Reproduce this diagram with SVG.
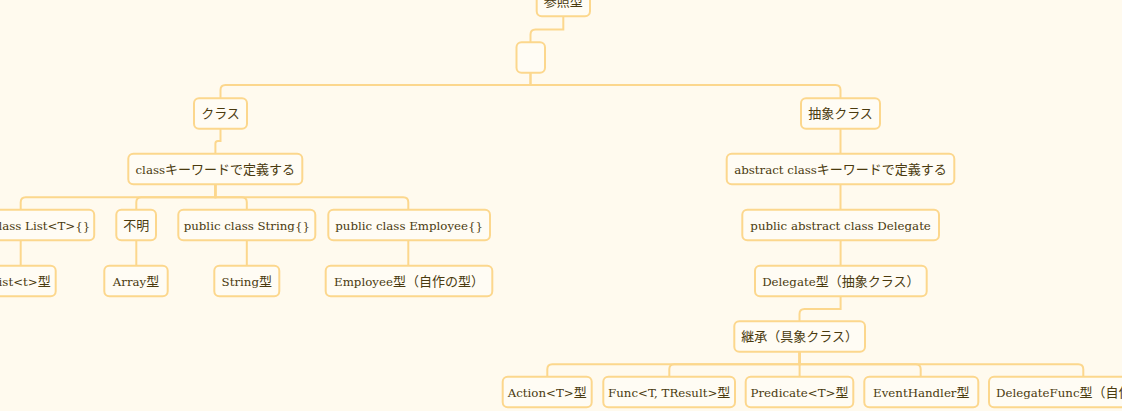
<svg xmlns="http://www.w3.org/2000/svg" width="1122" height="411" viewBox="0 0 1122 411">
<style>
.bg{fill:#fffaee}
.node rect{fill:#fffcf4;stroke:#fcd78d;stroke-width:2}
.t{font-family:"DejaVu Serif","Noto Sans CJK JP",serif;font-size:11.8px;fill:#4a3a0e;text-anchor:middle}
.j{font-family:"Noto Sans CJK JP","Noto Sans",sans-serif;font-size:13px}
#edges path{fill:none;stroke:#fcd78d;stroke-width:2}
</style>
<rect class="bg" x="0" y="0" width="1122" height="411"/>
<g id="edges">
<path d="M563.3,16.7 V29.5 H535.5 Q530.5,29.5 530.5,34.5 V42.2"/>
<path d="M530.5,72.7 V85 H225.5 Q220.5,85 220.5,90 V98.3"/>
<path d="M530.5,72.7 V85 H835.5 Q840.5,85 840.5,90 V98.3"/>
<path d="M220.5,128.8 V141 H217.9 Q215.4,141 215.4,143.5 V153.7"/>
<path d="M840.5,128.8 V153.7"/>
<path d="M215.4,184.3 V197.3 H25.7 Q20.7,197.3 20.7,202.3 V209.7"/>
<path d="M215.4,184.3 V197.3 H141.3 Q136.3,197.3 136.3,202.3 V209.7"/>
<path d="M215.4,184.3 V197.3 H241.8 Q246.8,197.3 246.8,202.3 V209.7"/>
<path d="M215.4,184.3 V197.3 H403.3 Q408.3,197.3 408.3,202.3 V209.7"/>
<path d="M840.5,184.3 V209.7"/>
<path d="M20.7,240.2 V265.7"/>
<path d="M136.3,240.2 V265.7"/>
<path d="M246.8,240.2 V265.7"/>
<path d="M408.3,240.2 V265.7"/>
<path d="M840.6,240.2 V265.7"/>
<path d="M840.6,296.2 V309 H804.5 Q799.5,309 799.5,314 V321.3"/>
<path d="M799.6,351.8 V364.3 H552.3 Q547.3,364.3 547.3,369.3 V376.7"/>
<path d="M799.6,351.8 V364.3 H674.3 Q669.3,364.3 669.3,369.3 V376.7"/>
<path d="M799.6,351.8 V376.7"/>
<path d="M799.6,351.8 V364.3 H915.7 Q920.7,364.3 920.7,369.3 V376.7"/>
<path d="M799.6,351.8 V364.3 H1078.3 Q1083.3,364.3 1083.3,369.3 V376.7"/>
</g>
<g id="n0" class="node"><rect x="536.7" y="-14.3" width="53.3" height="30.5" rx="5"/><text class="t j" x="563.3" y="5.7">参照型</text></g>
<g id="n1" class="node"><rect x="516.5" y="42.2" width="28.5" height="30.5" rx="5"/></g>
<g id="n2" class="node"><rect x="194" y="98.3" width="53" height="30.5" rx="5"/><text class="t j" x="220.5" y="118.3">クラス</text></g>
<g id="n3" class="node"><rect x="801" y="98.3" width="79" height="30.5" rx="5"/><text class="t j" x="840.5" y="118.3">抽象クラス</text></g>
<g id="n4" class="node"><rect x="128.3" y="153.7" width="174" height="30.5" rx="5"/><text class="t" x="215.3" y="173.5">class<tspan class="j">キーワードで定義する</tspan></text></g>
<g id="n5" class="node"><rect x="726.7" y="153.7" width="227.6" height="30.5" rx="5"/><text class="t" x="840.5" y="173.5">abstract class<tspan class="j">キーワードで定義する</tspan></text></g>
<g id="n6" class="node"><rect x="-52.8" y="209.7" width="147" height="30.5" rx="5"/><text class="t" x="20.7" y="229.5">public class List&lt;T&gt;{}</text></g>
<g id="n7" class="node"><rect x="116.3" y="209.7" width="39.7" height="30.5" rx="5"/><text class="t j" x="136.2" y="229.5">不明</text></g>
<g id="n8" class="node"><rect x="178.3" y="209.7" width="137" height="30.5" rx="5"/><text class="t" x="246.8" y="229.5">public class String{}</text></g>
<g id="n9" class="node"><rect x="328.3" y="209.7" width="161.7" height="30.5" rx="5"/><text class="t" x="409.2" y="229.5">public class Employee{}</text></g>
<g id="n10" class="node"><rect x="742.3" y="209.7" width="196.7" height="30.5" rx="5"/><text class="t" x="840.6" y="229.5">public abstract class Delegate</text></g>
<g id="n11" class="node"><rect x="-14.3" y="265.7" width="70" height="30.5" rx="5"/><text class="t" x="20.7" y="285.5">List&lt;t&gt;<tspan class="j">型</tspan></text></g>
<g id="n12" class="node"><rect x="104.3" y="265.7" width="63.4" height="30.5" rx="5"/><text class="t" x="136" y="285.5">Array<tspan class="j">型</tspan></text></g>
<g id="n13" class="node"><rect x="214.3" y="265.7" width="65" height="30.5" rx="5"/><text class="t" x="246.8" y="285.5">String<tspan class="j">型</tspan></text></g>
<g id="n14" class="node"><rect x="325.7" y="265.7" width="166.6" height="30.5" rx="5"/><text class="t" x="409" y="285.5">Employee<tspan class="j">型（自作の型）</tspan></text></g>
<g id="n15" class="node"><rect x="755" y="265.7" width="171.7" height="30.5" rx="5"/><text class="t" x="840.8" y="285.5">Delegate<tspan class="j">型（抽象クラス）</tspan></text></g>
<g id="n16" class="node"><rect x="734.3" y="321.3" width="130.7" height="30.5" rx="5"/><text class="t j" x="799.6" y="341.1">継承（具象クラス）</text></g>
<g id="n17" class="node"><rect x="502.7" y="376.7" width="89" height="30.5" rx="5"/><text class="t" x="547.2" y="396.5">Action&lt;T&gt;<tspan class="j">型</tspan></text></g>
<g id="n18" class="node"><rect x="603.3" y="376.7" width="131.7" height="30.5" rx="5"/><text class="t" x="669.2" y="396.5">Func&lt;T, TResult&gt;<tspan class="j">型</tspan></text></g>
<g id="n19" class="node"><rect x="745.7" y="376.7" width="107.6" height="30.5" rx="5"/><text class="t" x="799.5" y="396.5">Predicate&lt;T&gt;<tspan class="j">型</tspan></text></g>
<g id="n20" class="node"><rect x="864.3" y="376.7" width="114" height="30.5" rx="5"/><text class="t" x="921.3" y="396.5">EventHandler<tspan class="j">型</tspan></text></g>
<g id="n21" class="node"><rect x="989" y="376.7" width="188.7" height="30.5" rx="5"/><text class="t" x="1083.3" y="396.5">DelegateFunc<tspan class="j">型（自作の型）</tspan></text></g>
</svg>
